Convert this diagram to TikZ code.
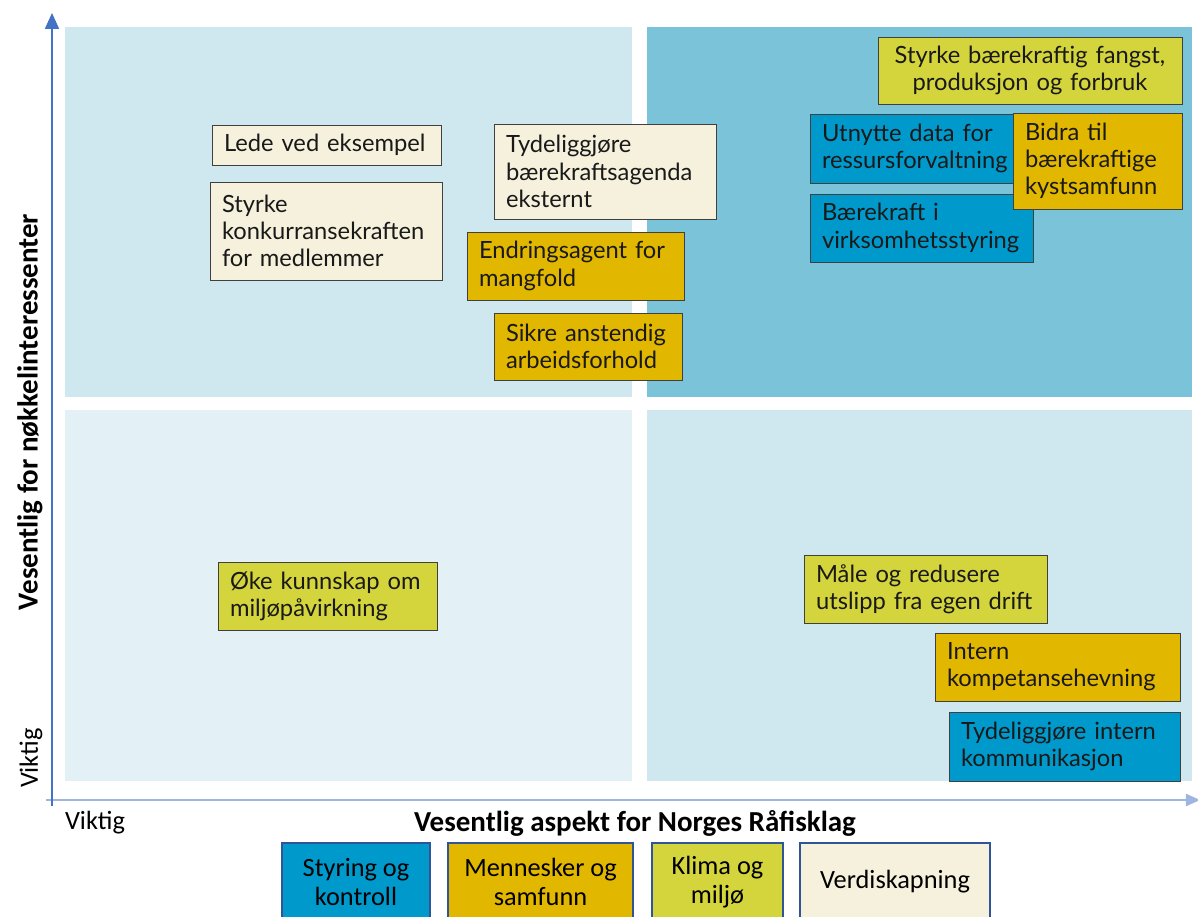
\documentclass[tikz,border=0pt]{standalone}
\usepackage{fontspec}
\setmainfont{Lato}
\newfontfamily\calfont{Carlito}
\usetikzlibrary{arrows.meta,positioning}

\definecolor{quadlow}{HTML}{E3F1F6}
\definecolor{quadmid}{HTML}{CFE8EF}
\definecolor{quadhigh}{HTML}{7AC3D8}
\definecolor{styrblue}{HTML}{0099CC}
\definecolor{menngold}{HTML}{E2B700}
\definecolor{klimalime}{HTML}{D4D43C}
\definecolor{verdicream}{HTML}{F5F1DC}
\definecolor{axisblue}{HTML}{4472C4}
\definecolor{axislight}{HTML}{9DB5E0}
\definecolor{legendedge}{HTML}{2F5597}

\begin{document}
\begin{tikzpicture}[x=0.02cm,y=-0.02cm,
    aspect/.style={draw=black!75,line width=0.5pt,inner xsep=0.24cm,inner ysep=0pt,
      align=left,font=\fontsize{13.5}{15.5}\selectfont,text=black!90},
    legendbox/.style={draw=legendedge,line width=0.6pt,inner sep=0pt,align=center,
      minimum height=1.56cm,font=\calfont\fontsize{15}{16.8}\selectfont},
    axislabel/.style={font=\calfont\bfseries\fontsize{16.5}{18}\selectfont},
    semithick]
  \useasboundingbox (0,0) rectangle (1198,917);

  % quadrants
  \fill[quadmid]  (65,27)  rectangle (632,397);
  \fill[quadhigh] (647,27) rectangle (1192,397);
  \fill[quadlow]  (65,410) rectangle (632,781);
  \fill[quadmid]  (647,410) rectangle (1192,781);

  % axes
  \coordinate (origin) at (52,800);
  \coordinate (ytop) at (52,13);
  \coordinate (xend) at (1200,800);
  \draw[axislight,line width=0.8pt,-{Triangle[length=8pt,width=7pt]}] (46,800) -- (xend);
  \draw[axisblue,line width=0.8pt,-{Triangle[length=9pt,width=8pt]}] (52,806) -- (ytop);

  \node[axislabel,rotate=90] (ylabel) at (30,412) {Vesentlig for nøkkelinteressenter};
  \node[font=\calfont\fontsize{15}{16}\selectfont,rotate=90] (ylow) at (31,758) {Viktig};
  \node[font=\calfont\fontsize{15}{16}\selectfont] (xlow) at (95,823) {Viktig};
  \node[axislabel] (xlabel) at (635,823) {Vesentlig aspekt for Norges Råfisklag};

  % high for stakeholders
  \node[aspect,fill=verdicream,text width=4.10cm,minimum height=0.8cm] (lede) at (326.5,145) {Lede ved eksempel};
  \node[aspect,fill=verdicream,text width=4.16cm,minimum height=1.96cm] (konk) at (326,231) {Styrke\\konkurransekraften\\for medlemmer};
  \node[aspect,fill=verdicream,text width=3.96cm,minimum height=1.9cm] (tydext) at (605,171.5) {Tydeliggjøre\\bærekraftsagenda\\eksternt};
  \node[aspect,fill=menngold,text width=3.86cm,minimum height=1.36cm] (endring) at (575.5,266) {Endringsagent for\\mangfold};
  \node[aspect,fill=menngold,text width=3.28cm,minimum height=1.34cm] (sikre) at (588,346.5) {Sikre anstendig\\arbeidsforhold};

  \node[aspect,fill=klimalime,align=center,text width=5.6cm,minimum height=1.34cm] (fangst) at (1030,70.5) {Styrke bærekraftig fangst,\\produksjon og forbruk};
  \node[aspect,fill=styrblue,text width=4.12cm,minimum height=1.38cm] (data) at (925,148.5) {Utnytte data for\\ressursforvaltning};
  \node[aspect,fill=styrblue,text width=3.98cm,minimum height=1.36cm] (virks) at (921.5,228) {Bærekraft i\\virksomhetsstyring};
  \node[aspect,fill=menngold,text width=2.9cm,minimum height=1.92cm] (kyst) at (1097.5,161) {Bidra til\\bærekraftige\\kystsamfunn};

  % low for stakeholders
  \node[aspect,fill=klimalime,text width=3.9cm,minimum height=1.36cm] (miljo) at (327.5,596) {Øke kunnskap om\\miljøpåvirkning};
  \node[aspect,fill=klimalime,text width=4.38cm,minimum height=1.36cm] (utslipp) at (925.5,589) {Måle og redusere\\utslipp fra egen drift};
  \node[aspect,fill=menngold,text width=4.42cm,minimum height=1.36cm] (kompetanse) at (1057.5,667) {Intern\\kompetansehevning};
  \node[aspect,fill=styrblue,text width=4.14cm,minimum height=1.38cm] (tydint) at (1064.5,746.5) {Tydeliggjøre intern\\kommunikasjon};

  % legend
  \node[legendbox,fill=styrblue,minimum width=2.96cm] (lstyring) at (356,882) {Styring og\\kontroll};
  \node[legendbox,fill=menngold,minimum width=3.7cm] (lmenn) at (540.5,882) {Mennesker og\\samfunn};
  \node[legendbox,fill=klimalime,minimum width=2.62cm] (lklima) at (717.5,882) {Klima og\\miljø};
  \node[legendbox,fill=verdicream,minimum width=3.8cm] (lverdi) at (895,882) {Verdiskapning};
\end{tikzpicture}
\end{document}
